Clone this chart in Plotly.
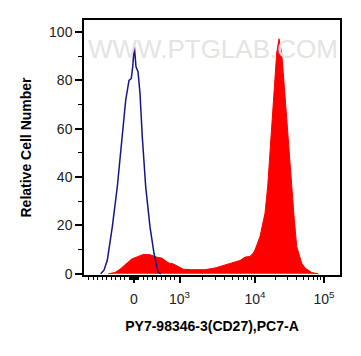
import numpy as np
import plotly.graph_objects as go

# ---- data (x in display channels 0..256 of the biexponential axis, y = relative cell number)
blue_ch = [16.7, 20.0, 23.3, 28.3, 33.3, 38.3, 41.7, 45.0, 47.3, 48.7, 50.3, 52.0, 54.0, 56.0,
           58.3, 61.7, 66.0, 70.0, 74.0, 76.7]
blue_cnt = [0.0, 1.5, 5.6, 19.4, 36.0, 56.6, 71.8, 80.0, 80.8, 85.6, 94.2, 85.6, 83.6, 74.6,
            56.6, 36.0, 19.4, 8.5, 0.7, 0.0]

red_ch = [24.3, 31.0, 36.0, 42.7, 47.7, 54.3, 59.3, 66.0, 72.7, 77.7, 81.7, 85.0, 89.3, 94.3,
          99.3, 107.7, 121.0, 131.0, 136.0, 141.0, 149.3, 156.0, 161.0, 166.0, 169.3, 171.0,
          176.0, 181.0, 183.7, 186.0, 188.3, 190.3, 192.7, 195.0, 197.7, 200.3, 202.7, 205.0,
          207.7, 210.3, 212.7, 216.0, 217.7, 221.0, 227.7, 234.3]
red_cnt = [0.0, 0.5, 1.9, 4.4, 6.1, 7.2, 8.0, 7.9, 6.9, 6.5, 5.5, 4.4, 4.1, 3.0,
           1.9, 1.7, 1.7, 2.4, 3.0, 3.4, 4.7, 5.5, 6.9, 7.2, 8.6, 9.9,
           15.4, 25.1, 36.2, 50.0, 63.8, 77.6, 91.4, 97.2, 91.4, 77.6, 63.8, 50.0,
           36.2, 22.3, 11.3, 6.0, 4.4, 2.4, 0.5, 0.0]

major_vals = [0, 1e3, 1e4, 1e5]
major_text = ["0", "10<sup>3</sup>", "10<sup>4</sup>", "10<sup>5</sup>"]
minor_vals = ([-v for v in range(100, 1001, 100)] + [s * v for v in range(10, 91, 10) for s in (-1, 1)]
              + list(range(100, 901, 100)) + list(range(2000, 9001, 1000))
              + list(range(20000, 90001, 10000)))

# axis transform (value -> display channel), linear near zero, log beyond 10^3
DEC = [3, 4, 5]
DEC_CH = [95.5, 171.0, 240.0]
ZERO_CH = 50.0


def to_ch(v):
    if abs(v) <= 1000:
        return ZERO_CH + (DEC_CH[0] - ZERO_CH) * v / 1000.0
    lv = np.log10(v)
    if lv > DEC[-1]:
        return DEC_CH[-1] + (lv - DEC[-1]) * (DEC_CH[-1] - DEC_CH[-2])
    return float(np.interp(lv, DEC, DEC_CH))


tick_ch = [to_ch(v) for v in major_vals]
minor_ch = [to_ch(v) for v in minor_vals]

font_fam = "Liberation Sans, Arial, sans-serif"

fig = go.Figure()
fig.add_trace(go.Scatter(x=red_ch, y=red_cnt, mode="lines", fill="tozeroy",
                         fillcolor="#ff0000", line=dict(color="#ff0000", width=1),
                         hoverinfo="skip", showlegend=False))
fig.add_trace(go.Scatter(x=blue_ch, y=blue_cnt, mode="lines",
                         line=dict(color="#14148c", width=1.5),
                         hoverinfo="skip", showlegend=False))

fig.add_annotation(text="WWW.PTGLAB.COM", xref="paper", yref="paper", x=0.504, y=0.952,
                   showarrow=False, font=dict(family=font_fam, size=26, color="#e4e4e4"))

fig.update_layout(
    width=361, height=356,
    margin=dict(l=84, r=21, t=20, b=81, autoexpand=False),
    plot_bgcolor="white", paper_bgcolor="white",
    font=dict(family=font_fam, color="black"),
    xaxis=dict(range=[0, 256], showgrid=False, zeroline=False, automargin=False,
               showline=True, linecolor="black", linewidth=1.5, mirror=True,
               tickmode="array", tickvals=tick_ch, ticktext=major_text,
               ticks="outside", ticklen=6, tickwidth=1.5, tickcolor="black",
               tickfont=dict(size=14, color="#222"),
               ticklabelstandoff=4,
               minor=dict(tickmode="array", tickvals=minor_ch, ticks="outside",
                          ticklen=3, tickwidth=1, tickcolor="black"),
               title=dict(text="PY7-98346-3(CD27),PC7-A", standoff=16,
                          font=dict(size=14, weight="bold", color="black"))),
    yaxis=dict(range=[-0.5, 105], showgrid=False, zeroline=False, automargin=False,
               showline=True, linecolor="black", linewidth=1.5, mirror=True,
               tickmode="array", tickvals=[0, 20, 40, 60, 80, 100],
               ticks="outside", ticklen=7, tickwidth=1.5, tickcolor="black",
               tickfont=dict(size=14, color="#222"),
               minor=dict(tickmode="array", tickvals=[10, 30, 50, 70, 90], ticks="outside",
                          ticklen=4, tickwidth=1, tickcolor="black"),
               title=dict(text="Relative Cell Number", standoff=14,
                          font=dict(size=14, weight="bold", color="black"))),
)

fig.write_html("out.html", config={"displayModeBar": False},
               post_script="document.body.style.margin='0';")
